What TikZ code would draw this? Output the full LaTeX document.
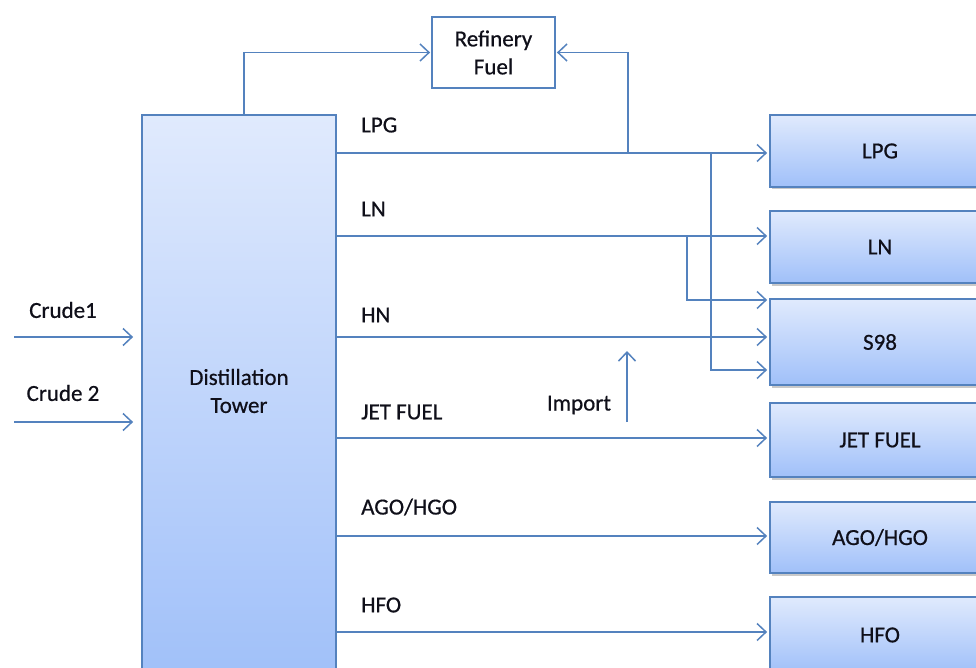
\documentclass[tikz,border=0pt]{standalone}
\usepackage{fontspec}
\setmainfont[FakeBold=0.6]{Carlito}
\usetikzlibrary{arrows.meta,shadows}
\definecolor{lineblue}{RGB}{84,130,190}
\definecolor{boxtop}{RGB}{224,234,253}
\definecolor{boxbot}{RGB}{160,192,249}
\definecolor{txt}{RGB}{15,15,25}
\tikzset{
  flow/.style={draw=lineblue, line width=1.8pt, -{Straight Barb[length=9pt,width=17pt,line width=1.5pt]}},
  tower/.style={draw=lineblue, line width=1.8pt, top color=boxtop, bottom color=boxbot, minimum width=194pt, minimum height=565pt, inner sep=0pt},
  prodbox/.style={draw=lineblue, line width=1.8pt, top color=boxtop, bottom color=boxbot, minimum width=220pt, inner sep=0pt, text=txt,
    drop shadow={opacity=0.35, shadow xshift=2pt, shadow yshift=-2.5pt, fill=black!60}},
  fuelbox/.style={draw=lineblue, line width=1.8pt, fill=white, minimum width=123pt, minimum height=71pt, align=center, text=txt, inner sep=0pt},
  lbl/.style={text=txt, inner sep=0pt, anchor=west},
  every node/.style={font=\fontsize{23}{28}\selectfont}
}
\begin{document}
\begin{tikzpicture}[x=1pt,y=-1pt]
\clip (0,0) rectangle (976,668);
\fill[white] (0,0) rectangle (976,668);
% tower
\node[tower] (tower) at (239,397.5) {};
\node[text=txt, align=center, inner sep=0pt] (towerlbl) at (239,391) {Distillation\\Tower};
% refinery fuel
\node[fuelbox] (rf) at (493.5,52.5) {Refinery\\Fuel};
% product boxes
\node[prodbox, minimum height=72pt] (lpg) at (880,151) {LPG};
\node[prodbox, minimum height=72pt] (ln) at (880,247) {LN};
\node[prodbox, minimum height=86pt] (s98) at (880,342) {S98};
\node[prodbox, minimum height=74pt] (jet) at (880,440) {JET FUEL};
\node[prodbox, minimum height=71pt] (ago) at (880,537.5) {AGO/HGO};
\node[prodbox, minimum height=76pt] (hfo) at (880,635) {HFO};
% crude inputs
\coordinate (c1) at (14,337);
\coordinate (c2) at (14,422);
\node[text=txt, inner sep=0pt] (c1lbl) at (63,310) {Crude1};
\node[text=txt, inner sep=0pt] (c2lbl) at (63,393) {Crude 2};
\draw[flow, shorten >=8pt] (c1) -- (tower.west |- c1);
\draw[flow, shorten >=8pt] (c2) -- (tower.west |- c2);
% stream labels
\node[lbl] (llpg) at (361,125) {LPG};
\node[lbl] (lln) at (361,209) {LN};
\node[lbl] (lhn) at (361,315) {HN};
\node[lbl] (ljet) at (361,412) {JET FUEL};
\node[lbl] (lago) at (361,507) {AGO/HGO};
\node[lbl] (lhfo) at (361,605) {HFO};
% streams
\draw[flow, shorten >=2pt] (tower.east |- 0,153) -- (lpg.west |- 0,153);
\draw[flow, shorten >=2pt] (tower.east |- 0,236) -- (ln.west |- 0,236);
\draw[flow, shorten >=2pt] (tower.east |- 0,337) -- (s98.west |- 0,337);
\draw[flow, shorten >=2pt] (tower.east |- 0,438) -- (jet.west |- 0,438);
\draw[flow, shorten >=2pt] (tower.east |- 0,536) -- (ago.west |- 0,536);
\draw[flow, shorten >=2pt] (tower.east |- 0,632) -- (hfo.west |- 0,632);
% refinery fuel
\draw[flow, shorten >=1pt] (244,0 |- tower.north) |- (rf.west);
\coordinate (j1) at (628,153);
\draw[flow, shorten >=1pt] (j1) |- (rf.east);
% blending to S98
\coordinate (j2) at (711,153);
\coordinate (j3) at (687,236);
\draw[flow, shorten >=2pt] (j2) |- (s98.west |- 0,370);
\draw[flow, shorten >=2pt] (j3) |- (s98.west |- 0,300);
% import
\coordinate (imp) at (627,422);
\draw[flow] (imp) -- (627,351);
\node[text=txt, inner sep=0pt] (implbl) at (579,405) {Import};
\end{tikzpicture}
\end{document}
